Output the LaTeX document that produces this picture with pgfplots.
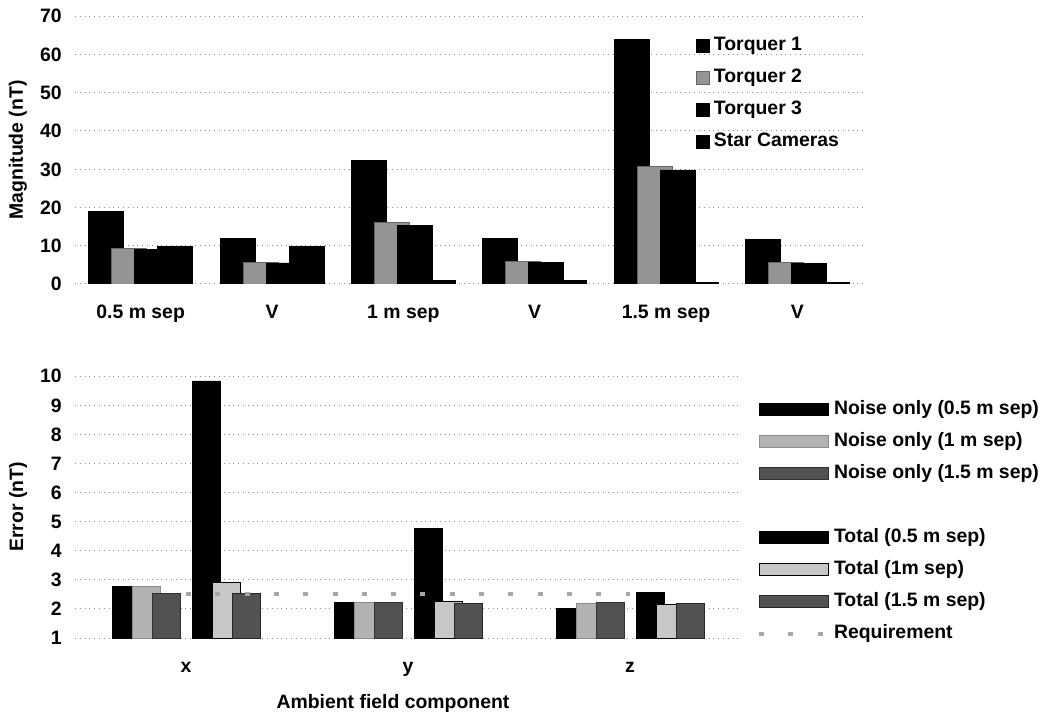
\documentclass[border=0pt]{standalone}
\usepackage{fontspec}
\setmainfont{Liberation Sans}
\usepackage{pgfplots}
\pgfplotsset{compat=1.18}

\pgfplotstableread{
x T1 T2 T3 SC
0 19.0 9.3 9.1 9.8
1 11.8 5.7 5.5 9.7
2 32.2 16.0 15.4 1.0
3 11.9 5.8 5.6 0.9
4 63.8 30.8 29.8 0.3
5 11.7 5.6 5.4 0.3
}\toptable

\pgfplotstableread{
x N05 N1 N15 T05 T1 T15
0 2.78 2.78 2.52 9.83 2.91 2.52
1 2.23 2.23 2.23 4.75 2.25 2.20
2 2.02 2.18 2.22 2.55 2.16 2.18
}\bottable

\pgfplotstableread{
x R
0 2.5
1 2.5
2 2.5
}\reqtable

\pgfplotsset{
  sqleg/.style={legend image code/.code={\draw[##1,line width=0.3pt] (0pt,-3.2pt) rectangle (6.5pt,3.3pt);}},
  rectleg/.style={legend image code/.code={\draw[##1,line width=0.3pt] (0pt,-3pt) rectangle (34.5pt,3pt);}},
  reqleg/.style={legend image code/.code={\draw[##1] (0pt,0pt) -- (34.5pt,0pt);}},
  common/.style={
    scale only axis,
    axis line style={draw=none},
    major tick length=0pt,
    ymajorgrids,
    grid style={dotted, black!45, line width=0.5pt},
    /pgf/number format/assume math mode=true,
    ticklabel style={font=\fontsize{9.7}{11.6}\selectfont\bfseries},
    yticklabel style={anchor=east, inner sep=0pt, text height=6.9pt, text depth=0pt, xshift=-6.5pt},
    xticklabel style={anchor=north, inner sep=0pt, text height=7pt, text depth=2pt},
    label style={font=\fontsize{9.7}{11.6}\selectfont\bfseries},
    ylabel style={at={(axis description cs:0,0.5)}, anchor=center, rotate=0, yshift=28.5pt},
    legend style={draw=none, fill=none, inner sep=0pt, row sep=7pt,
      font=\fontsize{9.7}{11.6}\selectfont\bfseries,
      nodes={inner sep=0pt, anchor=west, text height=7pt, text depth=2pt}},
    legend cell align=left,
  }
}

\begin{document}
\begin{tikzpicture}[font=\fontsize{9.7}{11.6}\selectfont\bfseries]
\begin{axis}[common, name=top, at={(0,0)}, anchor=north west,
  width=394pt, height=134pt,
  ybar, ymin=0, ymax=70, ytick={0,10,...,70},
  xmin=-0.5, xmax=5.5, xtick={0,...,5},
  xticklabels={0.5 m sep, V, 1 m sep, V, 1.5 m sep, V},
  xticklabel style={yshift=-10pt},
  ylabel={Magnitude (nT)},
  legend style={at={(0.788,0.925)}, anchor=north west, column sep=2pt},
]
\addplot[sqleg, fill=black, draw=black, bar width=17.5pt, bar shift=-17.25pt] table[x=x,y=T1] {\toptable};
\addlegendentry{Torquer 1}
\addplot[sqleg, fill=black!42, draw=black!60, bar width=17.5pt, bar shift=-5.75pt] table[x=x,y=T2] {\toptable};
\addlegendentry{Torquer 2}
\addplot[sqleg, fill=black, draw=black, bar width=17.5pt, bar shift=5.75pt] table[x=x,y=T3] {\toptable};
\addlegendentry{Torquer 3}
\addplot[sqleg, fill=black, draw=black, bar width=17.5pt, bar shift=17.25pt] table[x=x,y=SC] {\toptable};
\addlegendentry{Star Cameras}
\end{axis}

\begin{axis}[common, name=bot, at={(0,-180pt)}, anchor=north west,
  width=333pt, height=131pt,
  ybar, ymin=1, ymax=10, ytick={1,...,10},
  xmin=-0.5, xmax=2.5, xtick={0,1,2},
  xticklabels={x, y, z},
  xticklabel style={yshift=-10pt},
  ylabel={Error (nT)},
  xlabel={Ambient field component},
  xlabel style={at={(axis description cs:0.5,0)}, anchor=center, yshift=-32.5pt, xshift=-7.5pt},
  legend style={at={(1.0235,0.908)}, anchor=north west, column sep=2pt},
]
\addplot[rectleg, fill=black, draw=black, bar width=14pt, bar shift=-30pt] table[x=x,y=N05] {\bottable};
\addlegendentry{Noise only (0.5 m sep)}
\addplot[rectleg, fill=black!30, draw=black!45, bar width=14pt, bar shift=-20pt] table[x=x,y=N1] {\bottable};
\addlegendentry{Noise only (1 m sep)}
\addplot[rectleg, fill=black!68, draw=black!80, bar width=14pt, bar shift=-10pt] table[x=x,y=N15] {\bottable};
\addlegendentry{Noise only (1.5 m sep)}
\addlegendimage{empty legend}
\addlegendentry{}
\addplot[rectleg, fill=black, draw=black, bar width=14pt, bar shift=10pt] table[x=x,y=T05] {\bottable};
\addlegendentry{Total (0.5 m sep)}
\addplot[rectleg, fill=black!22, draw=black, bar width=14pt, bar shift=20pt] table[x=x,y=T1] {\bottable};
\addlegendentry{Total (1m sep)}
\addplot[rectleg, fill=black!68, draw=black!85, bar width=14pt, bar shift=30pt] table[x=x,y=T15] {\bottable};
\addlegendentry{Total (1.5 m sep)}
\addplot[reqleg, sharp plot, black!35, line width=2pt, dash pattern=on 2.5pt off 12.15pt] table[x=x,y=R] {\reqtable};
\addlegendentry{Requirement}
\end{axis}

\path (-37.5pt,8pt) rectangle (494pt,-350.5pt);
\end{tikzpicture}
\end{document}
